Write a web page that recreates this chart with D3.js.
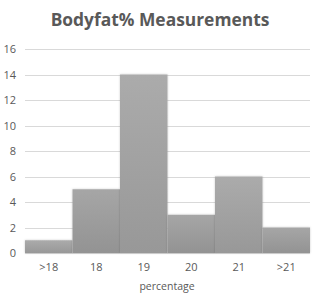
<!DOCTYPE html>
<html>
<head>
<meta charset="utf-8">
<script src="https://cdn.jsdelivr.net/npm/d3@7"></script>
<style>
    body { margin: 0; background: #fff; }
    text { font-family: "Open Sans", "Liberation Sans", sans-serif; fill: #595959; }
</style>
</head>
<body>
<script>
// histogram bins and counts
var categories = [">18", "18", "19", "20", "21", ">21"];
var counts = [1, 5, 14, 3, 6, 2];
var yTicks = [0, 2, 4, 6, 8, 10, 12, 14, 16];

var width = 321, height = 303;
var margin = {top: 49, right: 11, bottom: 50, left: 25};

var svg = d3.select("body").append("svg")
    .attr("width", width)
    .attr("height", height);

var defs = svg.append("defs");
var grad = defs.append("linearGradient")
    .attr("id", "barGrad")
    .attr("x1", 0).attr("y1", 0).attr("x2", 0).attr("y2", 1);
grad.append("stop").attr("offset", "0%").attr("stop-color", "#ababab");
grad.append("stop").attr("offset", "100%").attr("stop-color", "#989898");
var grad2 = defs.append("linearGradient")
    .attr("id", "barGrad2")
    .attr("x1", 0).attr("y1", 0).attr("x2", 0).attr("y2", 1);
grad2.append("stop").attr("offset", "0%").attr("stop-color", "#a6a6a6");
grad2.append("stop").attr("offset", "100%").attr("stop-color", "#939393");

var shadow = defs.append("filter").attr("id", "shadow")
    .attr("x", "-20%").attr("y", "-20%").attr("width", "140%").attr("height", "140%");
shadow.append("feDropShadow")
    .attr("dx", 0).attr("dy", 0)
    .attr("stdDeviation", 1.2)
    .attr("flood-color", "#000")
    .attr("flood-opacity", 0.2);

var x = d3.scaleBand()
    .domain(categories)
    .range([margin.left, width - margin.right])
    .padding(0);

var y = d3.scaleLinear()
    .domain([0, 16])
    .range([height - margin.bottom, margin.top]);

// title
svg.append("text")
    .attr("x", 160)
    .attr("y", 26)
    .attr("text-anchor", "middle")
    .style("font-size", "17.4px")
    .style("font-weight", "bold")
    .text("Bodyfat% Measurements");

// grid
svg.append("g")
    .selectAll("line")
    .data(yTicks)
    .enter()
    .append("line")
    .attr("x1", margin.left)
    .attr("x2", width - margin.right)
    .attr("y1", function (d) { return Math.round(y(d)) + 0.5; })
    .attr("y2", function (d) { return Math.round(y(d)) + 0.5; })
    .style("stroke", "#d9d9d9")
    .style("stroke-width", 1);

// y labels
svg.append("g")
    .selectAll("text")
    .data(yTicks)
    .enter()
    .append("text")
    .attr("x", 16)
    .attr("y", function (d) { return y(d) + 4; })
    .attr("text-anchor", "end")
    .style("font-size", "11px")
    .text(function (d) { return d; });

// bars
svg.append("g")
    .selectAll("rect")
    .data(counts)
    .enter()
    .append("rect")
    .attr("x", function (d, i) { return x(categories[i]); })
    .attr("y", function (d) { return y(d); })
    .attr("width", x.bandwidth())
    .attr("height", function (d) { return y(0) - y(d); })
    .attr("fill", function (d, i) { return i % 2 == 0 ? "url(#barGrad)" : "url(#barGrad2)"; })
    .attr("filter", "url(#shadow)");

// x labels
svg.append("g")
    .selectAll("text")
    .data(categories)
    .enter()
    .append("text")
    .attr("x", function (d) { return x(d) + x.bandwidth() / 2; })
    .attr("y", 271)
    .attr("text-anchor", "middle")
    .style("font-size", "11px")
    .text(function (d) { return d; });

svg.append("text")
    .attr("x", 167)
    .attr("y", 290)
    .attr("text-anchor", "middle")
    .style("font-size", "10.5px")
    .text("percentage");
</script>
</body>
</html>
